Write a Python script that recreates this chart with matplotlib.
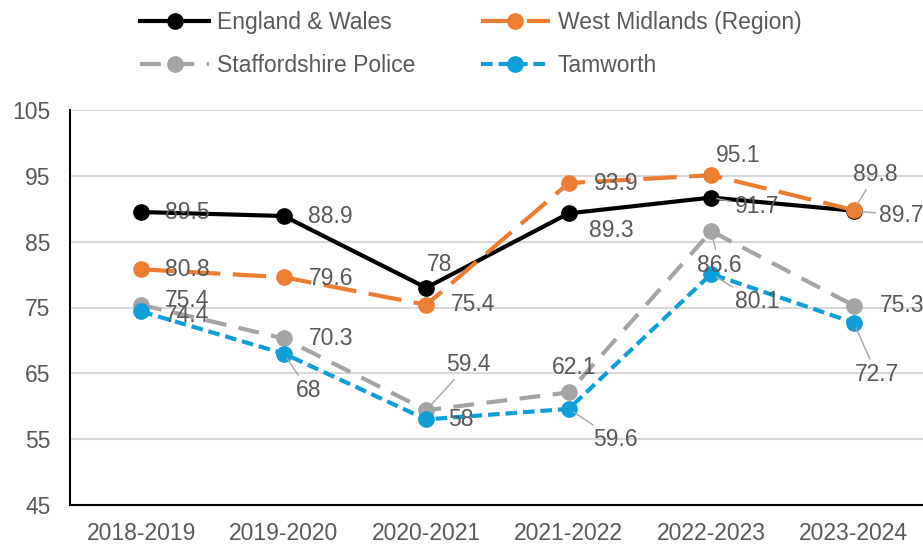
import numpy as np
import matplotlib.pyplot as plt

plt.rcParams['font.family'] = ['Liberation Sans', 'DejaVu Sans']

years = ['2018-2019', '2019-2020', '2020-2021', '2021-2022', '2022-2023', '2023-2024']
england_wales = [89.5, 88.9, 78, 89.3, 91.7, 89.7]
west_midlands = [80.8, 79.6, 75.4, 93.9, 95.1, 89.8]
staffordshire = [75.4, 70.3, 59.4, 62.1, 86.6, 75.3]
tamworth = [74.4, 68, 58, 59.6, 80.1, 72.7]

# label offsets in pixels (dx, dy) and whether a leader line is drawn
ew_off = [(46, 0), (47, -1), (13, 23), (43, -17), (46, -9), (48, -5)]
ew_lead = [0, 0, 0, 0, 1, 1]
wm_off = [(46, 0), (47, -1), (47, 0), (47, 0), (27, 20), (22, 36)]
wm_lead = [0, 0, 0, 0, 0, 1]
st_off = [(46, 4), (47, 0), (42, 46), (5, 25), (8, -34), (48, 0)]
st_lead = [0, 0, 1, 0, 1, 0]
ta_off = [(46, -4), (25, -37), (35, 0), (47, -31), (46, -28), (23, -52)]
ta_lead = [0, 1, 0, 1, 1, 1]

fig = plt.figure(figsize=(9.23, 5.45), dpi=100)
ax = fig.add_axes([70/923, 40/545, 855/923, 395/545])

x = np.arange(len(years))
lab_col = '#595959'
fs = 16.5

series = [
    ('England & Wales', england_wales, 'black', '-', None, ew_off, ew_lead),
    ('West Midlands (Region)', west_midlands, '#ED7D31', '--', (8, 3), wm_off, wm_lead),
    ('Staffordshire Police', staffordshire, '#A5A5A5', '--', (5, 3), st_off, st_lead),
    ('Tamworth', tamworth, '#0E9FD8', '--', (2.8, 1.4), ta_off, ta_lead),
]

handles = []
for name, vals, col, ls, dash, offs, lead in series:
    line, = ax.plot(x, vals, color=col, lw=3, ls=ls, marker='o', ms=11,
                    label=name, zorder=3)
    if dash:
        line.set_dashes(dash)
    handles.append(line)
    for xi, v, (dx, dy), ld in zip(x, vals, offs, lead):
        ap = dict(arrowstyle='-', color='#A6A6A6', lw=1, shrinkA=1, shrinkB=4) if ld else None
        ax.annotate(f'{v:g}', (xi, v), xytext=(dx, dy), textcoords='offset pixels',
                    ha='center', va='center', fontsize=fs, color=lab_col,
                    arrowprops=ap, zorder=4)

ax.set_xlim(-0.5, 5.5)
ax.set_ylim(45, 105)
ax.set_yticks(range(45, 106, 10))
ax.set_xticks(x)
ax.set_xticklabels(years)
ax.tick_params(length=0, labelsize=fs, labelcolor=lab_col)
ax.tick_params(axis='x', pad=12)
ax.tick_params(axis='y', pad=14)
ax.grid(axis='y', color='#D9D9D9', lw=1.5)
ax.set_axisbelow(True)
for s in ['top', 'right']:
    ax.spines[s].set_visible(False)
for s in ['left', 'bottom']:
    ax.spines[s].set_color('black')
    ax.spines[s].set_linewidth(1.5)

# row-major legend order: matplotlib fills columns first
order = [0, 2, 1, 3]
leg = fig.legend([handles[i] for i in order], [series[i][0] for i in order],
                 loc='upper center', bbox_to_anchor=(0.51, 1.017), ncol=2, frameon=False,
                 fontsize=fs, handlelength=3.0, columnspacing=2.85, handletextpad=0.35,
                 labelspacing=0.85)
for t in leg.get_texts():
    t.set_color(lab_col)

fig.savefig('out.png', dpi=100)
